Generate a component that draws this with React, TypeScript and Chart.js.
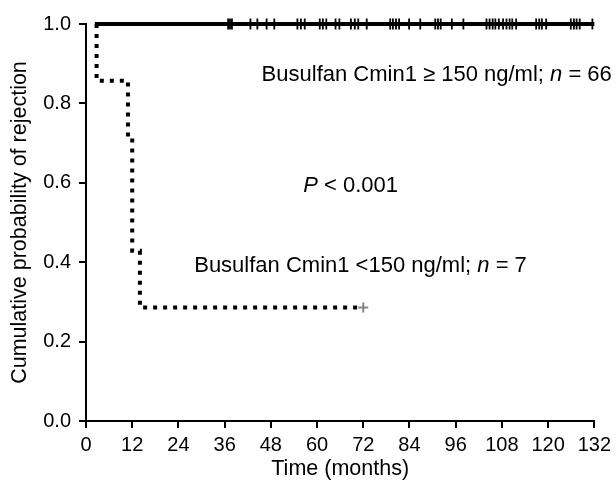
import React, { useEffect, useRef } from "react";
import { Chart, registerables } from "chart.js";

Chart.register(...registerables);

// Time axis (months) and probability axis
const xMin = 0;
const xMax = 132;
const xStep = 12;
const yMin = 0;
const yMax = 1;
const yStep = 0.2;

// Group: Busulfan Cmin1 >= 150 ng/ml (n = 66) — no events
const highTimes = [2.3, 132];
const highValues = [1.0, 1.0];
const highCensorTimes = [
  36.9, 37.4, 37.9, 42.7, 44.5, 46.9, 48.9, 54.9, 55.8, 56.8, 60.7, 61.5, 62.4,
  64.8, 65.8, 68.8, 69.8, 70.7, 72.9, 79.0, 79.7, 80.5, 81.3, 83.9, 86.8, 90.7,
  91.4, 92.1, 95.0, 98.0, 104.0, 104.8, 105.6, 106.3, 107.2, 108.3, 109.2, 110.0,
  110.7, 111.7, 116.9, 117.7, 118.4, 119.5, 125.9, 126.7, 127.4, 128.2, 131.5,
];

// Group: Busulfan Cmin1 < 150 ng/ml (n = 7)
const lowTimes = [2.75, 2.75, 10.9, 12.0, 14.0, 72];
const lowValues = [1.0, 0.857, 0.714, 0.429, 0.286, 0.286];
const lowCensorTimes = [72];
const lowCensorValues = [0.286];

// Annotation texts: [text, italic]
const labelHigh: [string, boolean][] = [
  ["Busulfan Cmin1 \u2265 150 ng/ml; ", false],
  ["n", true],
  [" = 66", false],
];
const labelP: [string, boolean][] = [
  ["P", true],
  [" < 0.001", false],
];
const labelLow: [string, boolean][] = [
  ["Busulfan Cmin1 <150 ng/ml; ", false],
  ["n", true],
  [" = 7", false],
];
const annotationAnchors = [
  { x: 45.6, y: 0.856, parts: labelHigh },
  { x: 56.4, y: 0.578, parts: labelP },
  { x: 28.1, y: 0.376, parts: labelLow },
];

const xTitle = "Time (months)";
const yTitle = "Cumulative probability of rejection";

const FONT = "'Liberation Sans', Arial, Helvetica, sans-serif";

const textPlugin = {
  id: "kmText",
  afterDatasetsDraw(chart: any) {
    const { ctx, scales } = chart;
    ctx.save();
    ctx.fillStyle = "#000";
    ctx.textBaseline = "alphabetic";
    ctx.textAlign = "left";
    for (const a of annotationAnchors) {
      let px = scales.x.getPixelForValue(a.x);
      const py = scales.y.getPixelForValue(a.y);
      for (const [t, it] of a.parts) {
        ctx.font = `${it ? "italic " : ""}22px ${FONT}`;
        ctx.fillText(t, px, py);
        px += ctx.measureText(t).width;
      }
    }
    ctx.restore();
  },
};

export default function App() {
  const ref = useRef<HTMLCanvasElement | null>(null);
  useEffect(() => {
    if (!ref.current) return;
    const chart = new Chart(ref.current, {
      type: "line",
      data: {
        datasets: [
          {
            data: highTimes.map((t, i) => ({ x: t, y: highValues[i] })),
            borderColor: "#000",
            borderWidth: 4,
            pointRadius: 0,
            fill: false,
            borderCapStyle: "butt",
            clip: false,
          },
          {
            data: highCensorTimes.map((t) => ({ x: t, y: 1.0 })),
            showLine: false,
            pointStyle: "line",
            rotation: 90,
            pointRadius: 5.5,
            pointBorderWidth: 1.8,
            pointBorderColor: "#000",
            pointBackgroundColor: "#000",
            clip: false,
          },
          {
            data: lowTimes.map((t, i) => ({ x: t, y: lowValues[i] })),
            borderColor: "#000",
            borderWidth: 4,
            borderDash: [4, 6],
            borderCapStyle: "butt",
            stepped: true,
            pointRadius: 0,
            fill: false,
            clip: false,
          },
          {
            data: lowCensorTimes.map((t, i) => ({ x: t, y: lowCensorValues[i] })),
            showLine: false,
            pointStyle: "cross",
            pointRadius: 5,
            pointBorderWidth: 2,
            pointBorderColor: "#888",
            clip: false,
          },
        ],
      },
      options: {
        responsive: false,
        animation: false,
        events: [],
        layout: { padding: { top: 24, right: 17.3, bottom: 0, left: 0 } },
        plugins: { legend: { display: false }, tooltip: { enabled: false } },
        scales: {
          x: {
            type: "linear",
            min: xMin,
            max: xMax,
            afterFit: (s: any) => {
              s.height = 61;
            },
            ticks: {
              stepSize: xStep,
              color: "#000",
              padding: 5,
              font: { family: FONT, size: 20 },
              maxRotation: 0,
            },
            grid: {
              drawOnChartArea: false,
              drawTicks: true,
              tickLength: 7,
              color: "#000",
              lineWidth: 2,
            },
            border: { display: true, color: "#000", width: 2 },
            title: {
              display: true,
              text: xTitle,
              color: "#000",
              font: { family: FONT, size: 21.5 },
              padding: { top: 0, bottom: 0 },
            },
          },
          y: {
            type: "linear",
            min: yMin,
            max: yMax,
            afterFit: (s: any) => {
              s.width = 86;
            },
            ticks: {
              stepSize: yStep,
              color: "#000",
              padding: 8,
              font: { family: FONT, size: 20 },
              callback: (v: any) => Number(v).toFixed(1),
            },
            grid: {
              drawOnChartArea: false,
              drawTicks: true,
              tickLength: 7,
              color: "#000",
              lineWidth: 2,
            },
            border: { display: true, color: "#000", width: 2 },
            title: {
              display: true,
              text: yTitle,
              color: "#000",
              font: { family: FONT, size: 21.5 },
              padding: { top: 7, bottom: 0 },
            },
          },
        },
      },
      plugins: [textPlugin],
    } as any);
    return () => chart.destroy();
  }, []);
  return (
    <div style={{ position: "fixed", left: 0, top: 0, width: 616, height: 482, background: "#fff" }}>
      <canvas ref={ref} width={616} height={482} style={{ display: "block" }} />
    </div>
  );
}
